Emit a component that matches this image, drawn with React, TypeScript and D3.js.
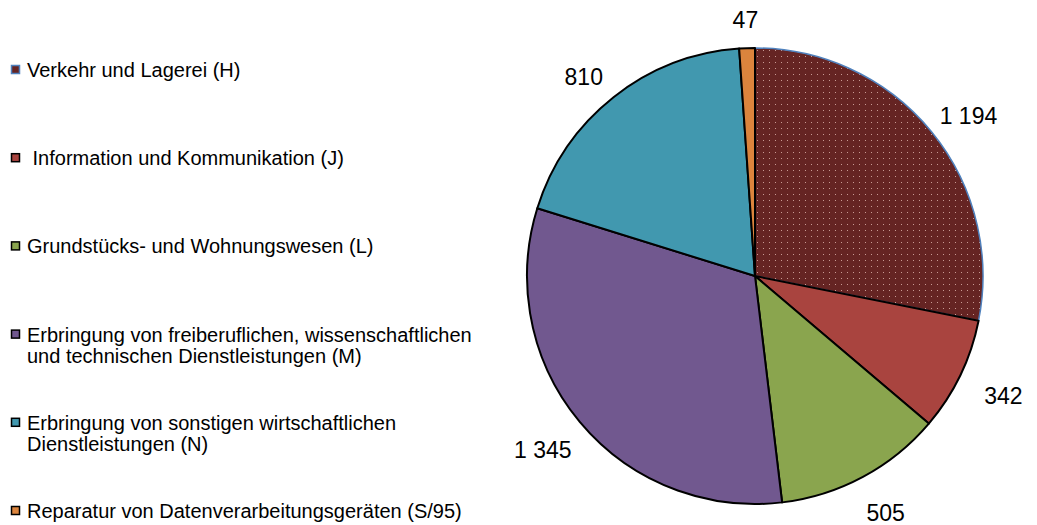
import React, { useEffect, useRef } from 'react'
import * as d3 from 'd3'

const categories = [
  ['Verkehr und Lagerei (H)'],
  [' Information und Kommunikation (J)'],
  ['Grundstücks- und Wohnungswesen (L)'],
  ['Erbringung von freiberuflichen, wissenschaftlichen', 'und technischen Dienstleistungen (M)'],
  ['Erbringung von sonstigen wirtschaftlichen', 'Dienstleistungen (N)'],
  ['Reparatur von Datenverarbeitungsgeräten (S/95)'],
]
const values = [1194, 342, 505, 1345, 810, 47]
const valueLabels = ['1 194', '342', '505', '1 345', '810', '47']
const colors = ['url(#dots)', '#A9443F', '#8AA54E', '#71588F', '#4198AF', '#DB843D']

export default function App() {
  const ref = useRef<SVGSVGElement>(null)

  useEffect(() => {
    const svg = d3.select(ref.current)
    svg.selectAll('*').remove()

    const W = 1037, H = 525
    const cx = 755, cy = 276, R = 228

    // dotted pattern for first slice
    const defs = svg.append('defs')
    const pat = defs.append('pattern')
      .attr('id', 'dots')
      .attr('patternUnits', 'userSpaceOnUse')
      .attr('width', 6).attr('height', 6)
    pat.append('rect').attr('width', 6).attr('height', 6).attr('fill', '#652423')
    pat.append('rect').attr('x', 2).attr('y', 2).attr('width', 1).attr('height', 1).attr('fill', '#c89a94')

    const pie = d3.pie<number>().sort(null).value(d => d)
    const arcs = pie(values)
    const arc = d3.arc<d3.PieArcDatum<number>>().innerRadius(0).outerRadius(R)
    const labelArc = d3.arc<d3.PieArcDatum<number>>().innerRadius(R + 34).outerRadius(R + 34)

    const g = svg.append('g').attr('transform', `translate(${cx},${cy})`)

    g.selectAll('path.slice')
      .data(arcs)
      .enter()
      .append('path')
      .attr('class', 'slice')
      .attr('d', arc)
      .attr('fill', (d, i) => colors[i])
      .attr('stroke', (d, i) => (i === 0 ? '#4F81BD' : '#000'))
      .attr('stroke-width', (d, i) => (i === 0 ? 1.5 : 2))
      .attr('stroke-linejoin', 'round')

    g.selectAll('text.val')
      .data(arcs)
      .enter()
      .append('text')
      .attr('class', 'val')
      .attr('transform', d => {
        const [x, y] = labelArc.centroid(d)
        // push labels a bit outward horizontally, like the spreadsheet's best fit
        const a = (d.startAngle + d.endAngle) / 2
        return `translate(${x + Math.sin(a) * 14},${y + 6})`
      })
      .attr('text-anchor', 'middle')
      .attr('dy', '0.35em')
      .attr('font-family', 'Liberation Sans, Arial, sans-serif')
      .attr('font-size', 23)
      .attr('fill', '#000')
      .text((d, i) => valueLabels[i])

    // legend
    const ly = d3.scaleLinear().domain([0, categories.length - 1]).range([70, 511])
    const leg = svg.append('g')
    categories.forEach((lines, i) => {
      const y = ly(i)
      leg.append('rect')
        .attr('x', 11.5).attr('y', y - 4.5)
        .attr('width', 8).attr('height', 8)
        .attr('fill', i === 0 ? '#652423' : colors[i])
        .attr('stroke', i === 0 ? '#4F81BD' : '#000')
        .attr('stroke-width', 1.5)
      const t = leg.append('text')
        .attr('x', 27).attr('y', y)
        .attr('font-family', 'Liberation Sans, Arial, sans-serif')
        .attr('font-size', 20)
        .attr('fill', '#000')
        .style('white-space', 'pre')
      lines.forEach((line, j) => {
        t.append('tspan').attr('x', 27).attr('dy', j === 0 ? '0.35em' : 21).text(line)
      })
    })

    svg.attr('width', W).attr('height', H)
  }, [])

  return (
    <svg ref={ref} width={1037} height={525}
      style={{ position: 'absolute', left: 0, top: 0, background: '#fff' }} />
  )
}
